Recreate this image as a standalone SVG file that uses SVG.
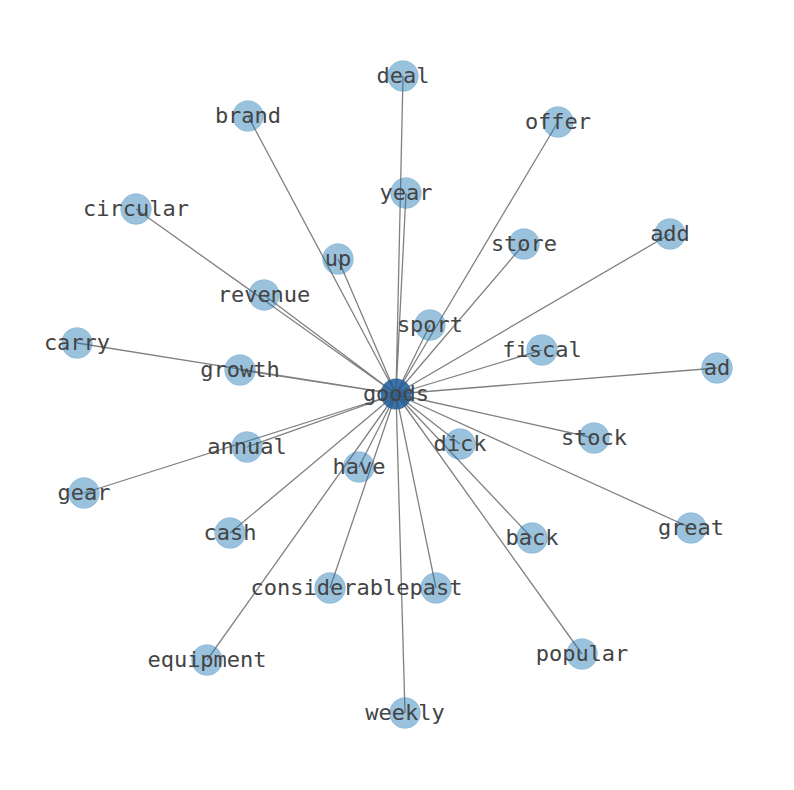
<svg xmlns="http://www.w3.org/2000/svg" width="794" height="790" viewBox="0 0 794 790">
<style>
.e{stroke:#808080;stroke-width:1.3;fill:none}
.n{fill:#1f77b4;fill-opacity:0.45;stroke:#1f77b4;stroke-opacity:0.15}
.c{fill:#1f5a96;fill-opacity:0.85}
text{font-family:"DejaVu Sans Mono","Liberation Mono",monospace;font-size:22px;fill:#444;text-anchor:middle}
</style>
<rect width="794" height="790" fill="#fff"/>
<g id="edges">
<path class="e" d="M396 394L403 76M396 394L248 116M396 394L558 122M396 394L406 193M396 394L136 209M396 394L338 259M396 394L524 244M396 394L670 234M396 394L264 295M396 394L430 325M396 394L77 343M396 394L542 350M396 394L240 370M396 394L717 368M396 394L247 447M396 394L594 438M396 394L460 444M396 394L359 467M396 394L84 493M396 394L691 528M396 394L230 533M396 394L532 538M396 394L330 588M396 394L436 588M396 394L207 660M396 394L582 654M396 394L405 713"/>
</g>
<g id="deal"><circle class="n" cx="403" cy="76" r="15.5"/><text x="403" y="83">deal</text></g>
<g id="brand"><circle class="n" cx="248" cy="116" r="15.5"/><text x="248" y="123">brand</text></g>
<g id="offer"><circle class="n" cx="558" cy="122" r="15.5"/><text x="558" y="129">offer</text></g>
<g id="year"><circle class="n" cx="406" cy="193" r="15.5"/><text x="406" y="200">year</text></g>
<g id="circular"><circle class="n" cx="136" cy="209" r="15.5"/><text x="136" y="216">circular</text></g>
<g id="up"><circle class="n" cx="338" cy="259" r="15.5"/><text x="338" y="266">up</text></g>
<g id="store"><circle class="n" cx="524" cy="244" r="15.5"/><text x="524" y="251">store</text></g>
<g id="add"><circle class="n" cx="670" cy="234" r="15.5"/><text x="670" y="241">add</text></g>
<g id="revenue"><circle class="n" cx="264" cy="295" r="15.5"/><text x="264" y="302">revenue</text></g>
<g id="sport"><circle class="n" cx="430" cy="325" r="15.5"/><text x="430" y="332">sport</text></g>
<g id="carry"><circle class="n" cx="77" cy="343" r="15.5"/><text x="77" y="350">carry</text></g>
<g id="fiscal"><circle class="n" cx="542" cy="350" r="15.5"/><text x="542" y="357">fiscal</text></g>
<g id="growth"><circle class="n" cx="240" cy="370" r="15.5"/><text x="240" y="377">growth</text></g>
<g id="ad"><circle class="n" cx="717" cy="368" r="15.5"/><text x="717" y="375">ad</text></g>
<g id="annual"><circle class="n" cx="247" cy="447" r="15.5"/><text x="247" y="454">annual</text></g>
<g id="stock"><circle class="n" cx="594" cy="438" r="15.5"/><text x="594" y="445">stock</text></g>
<g id="dick"><circle class="n" cx="460" cy="444" r="15.5"/><text x="460" y="451">dick</text></g>
<g id="have"><circle class="n" cx="359" cy="467" r="15.5"/><text x="359" y="474">have</text></g>
<g id="gear"><circle class="n" cx="84" cy="493" r="15.5"/><text x="84" y="500">gear</text></g>
<g id="great"><circle class="n" cx="691" cy="528" r="15.5"/><text x="691" y="535">great</text></g>
<g id="cash"><circle class="n" cx="230" cy="533" r="15.5"/><text x="230" y="540">cash</text></g>
<g id="back"><circle class="n" cx="532" cy="538" r="15.5"/><text x="532" y="545">back</text></g>
<g id="considerable"><circle class="n" cx="330" cy="588" r="15.5"/><text x="330" y="595">considerable</text></g>
<g id="past"><circle class="n" cx="436" cy="588" r="15.5"/><text x="436" y="595">past</text></g>
<g id="equipment"><circle class="n" cx="207" cy="660" r="15.5"/><text x="207" y="667">equipment</text></g>
<g id="popular"><circle class="n" cx="582" cy="654" r="15.5"/><text x="582" y="661">popular</text></g>
<g id="weekly"><circle class="n" cx="405" cy="713" r="15.5"/><text x="405" y="720">weekly</text></g>
<g id="goods"><circle class="c" cx="396" cy="394" r="15.5"/><text x="396" y="401">goods</text></g>
</svg>
